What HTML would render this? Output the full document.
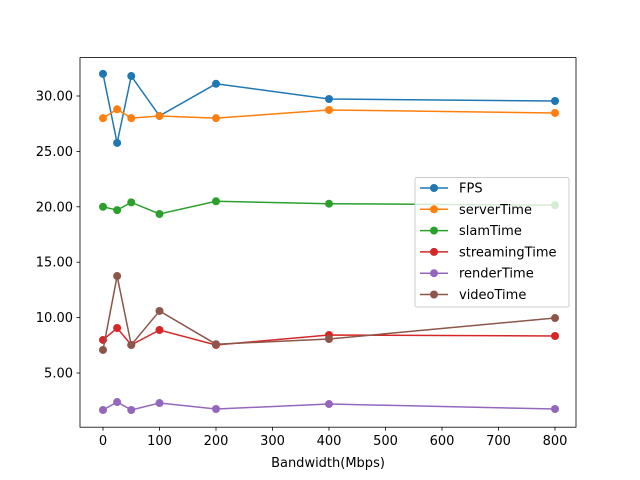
<!DOCTYPE html>
<html><head><meta charset="utf-8"><style>
body{margin:0;background:#fff}
svg{display:block;font-family:"DejaVu Sans","Liberation Sans",sans-serif}
</style></head><body>
<svg id="chart" width="640" height="480">
<rect width="640" height="480" fill="#fff"/>
</svg>
<script>
const categories=[0,25,50,100,200,400,800];
const seriesNames=["FPS","serverTime","slamTime","streamingTime","renderTime","videoTime"];
const colors=["#1f77b4","#ff7f0e","#2ca02c","#d62728","#9467bd","#8c564b"];
const fps=[32.0,25.76,31.8,28.2,31.1,29.73,29.55];
const serverTime=[28.0,28.8,28.0,28.2,28.0,28.74,28.47];
const slamTime=[20.0,19.7,20.4,19.35,20.5,20.28,20.15];
const streamingTime=[7.98,9.06,7.53,8.88,7.53,8.43,8.34];
const renderTime=[1.66,2.38,1.66,2.29,1.75,2.2,1.75];
const videoTime=[7.08,13.75,7.53,10.6,7.6,8.07,9.96];
const xTicks=[0,100,200,300,400,500,600,700,800];
const yTicks=[5,10,15,20,25,30];
const allSeries=[fps,serverTime,slamTime,streamingTime,renderTime,videoTime];
const NS="http://www.w3.org/2000/svg";
const svg=document.getElementById("chart");
const L=80,R=576,T=57.6,B=427.2;
const x=v=>103+(v-0)*(555-103)/800;
const y=v=>96-(v-30)*11.08;
function el(tag,attrs,parent){const e=document.createElementNS(NS,tag);for(const k in attrs)e.setAttribute(k,attrs[k]);(parent||svg).appendChild(e);return e;}
const frame=el("rect",{x:L,y:T,width:R-L,height:B-T,fill:"none",stroke:"#000","stroke-width":0.8});


xTicks.forEach(t=>{
  const g=el("g",{});
  
  
  el("line",{x1:x(t),x2:x(t),y1:B,y2:B+3.5,stroke:"#000","stroke-width":0.8},g);
  const tx=el("text",{x:x(t),y:B+18,"text-anchor":"middle","font-size":13},g);tx.textContent=t;
});
yTicks.forEach(t=>{
  const g=el("g",{});
  
  
  el("line",{x1:L-3.5,x2:L,y1:y(t),y2:y(t),stroke:"#000","stroke-width":0.8},g);
  const tx=el("text",{x:L-7,y:y(t)+4.5,"text-anchor":"end","font-size":13},g);tx.textContent=t.toFixed(2);
});
const xl=el("text",{x:(L+R)/2,y:467,"text-anchor":"middle","font-size":13});xl.textContent="Bandwidth(Mbps)";


allSeries.forEach((s,i)=>{
  const g=el("g",{});
  
  
  el("polyline",{points:s.map((v,j)=>x(categories[j])+","+y(v)).join(" "),fill:"none",stroke:colors[i],"stroke-width":1.5},g);
  s.forEach((v,j)=>{
    const c=el("circle",{cx:x(categories[j]),cy:y(v),r:4,fill:colors[i]},g);
    
    
  });
});
const lg=el("g",{});


el("rect",{x:415,y:177.5,width:154,height:129.5,rx:2,fill:"#fff","fill-opacity":0.8,stroke:"#ccc"},lg);
seriesNames.forEach((n,i)=>{
  const e=el("g",{},lg);
  
  
  const yy=188+i*21.3;
  el("line",{x1:420,x2:448,y1:yy,y2:yy,stroke:colors[i],"stroke-width":1.5},e);
  el("circle",{cx:434,cy:yy,r:4,fill:colors[i]},e);
  const t=el("text",{x:459,y:yy+4.5,"font-size":13},e);t.textContent=n;
});
</script>
</body></html>
